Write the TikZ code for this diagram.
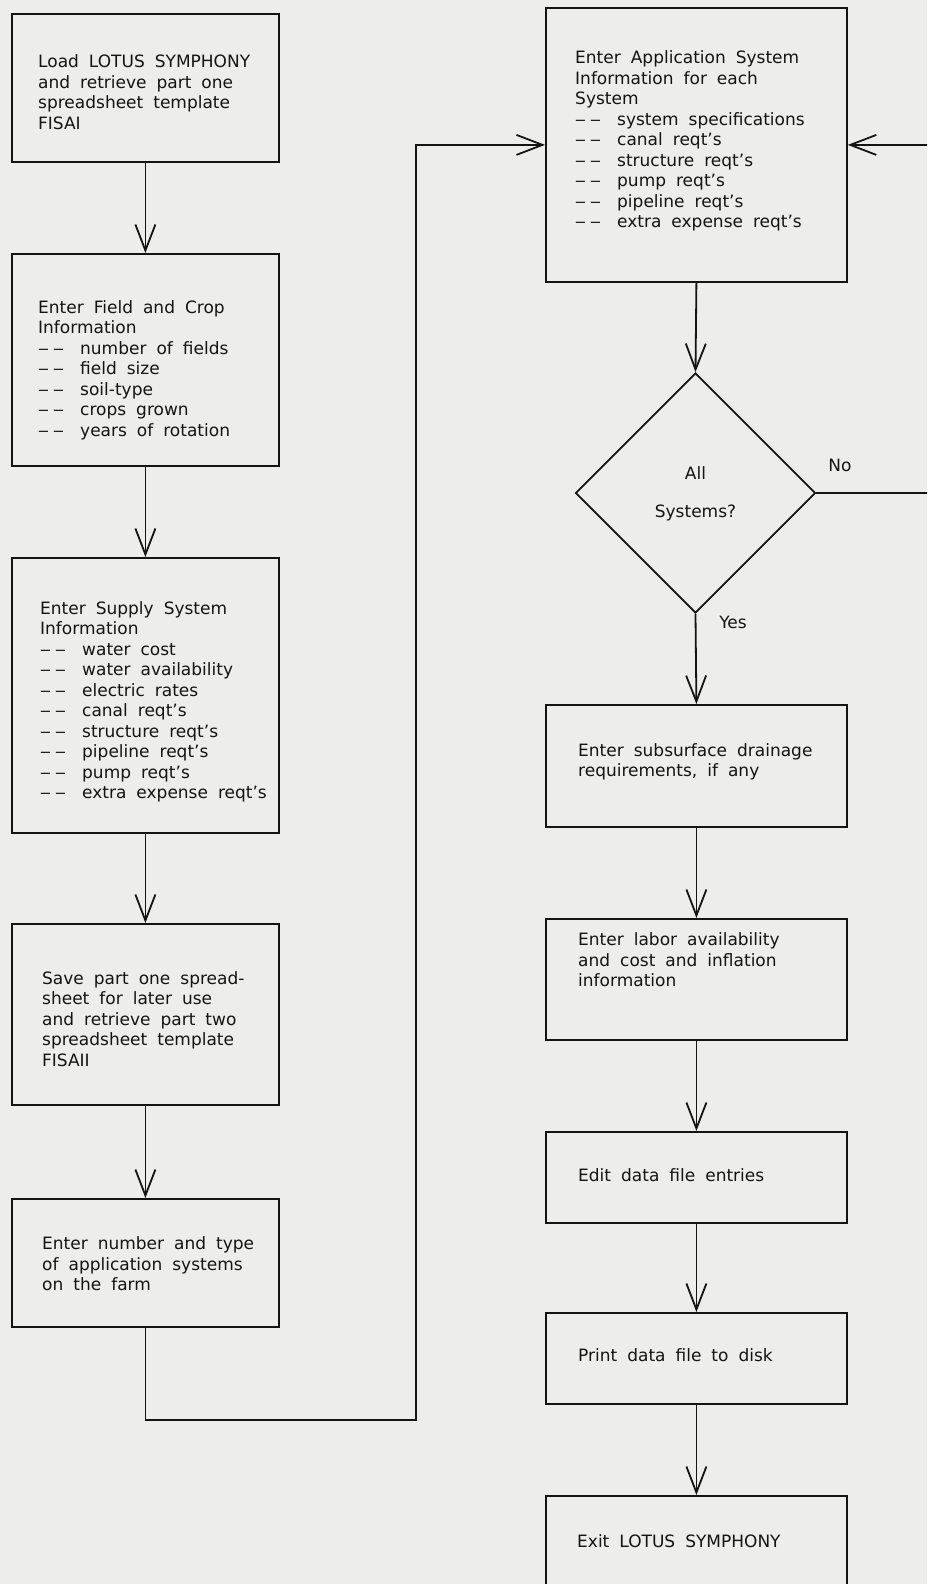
\documentclass[tikz,border=0pt]{standalone}
\usepackage{fontspec}
\setmainfont{DejaVu Sans}[WordSpace=1.85]
\usetikzlibrary{arrows.meta,shapes.geometric}

\definecolor{paper}{RGB}{237,237,235}
\definecolor{ink}{RGB}{20,20,20}

% list item lead-in: two long dashes, then the entry
\newcommand\lsdash{\makebox[42pt][l]{‒\kern4pt‒}}

\tikzset{
  x=1pt, y=-1pt,
  stepbox/.style={draw=ink, line width=1.8pt, rectangle, inner sep=0pt, anchor=north west},
  txt/.style={align=left, anchor=west, inner sep=0pt, text=ink,
              font=\fontsize{17}{20.5}\selectfont},
  lbl/.style={inner sep=0pt, text=ink, font=\fontsize{17}{20.5}\selectfont},
  flow/.style={draw=ink, line width=1.8pt,
               -{Straight Barb[length=26pt,width=20pt,line width=1.8pt]}},
  decision/.style={draw=ink, line width=1.8pt, diamond, inner sep=0pt,
                   minimum width=240pt, minimum height=240pt},
}

\begin{document}
\begin{tikzpicture}
\useasboundingbox (0,0) rectangle (927,1584);
\fill[paper] (0,0) rectangle (927,1584);
\clip (0,0) rectangle (927,1584);

% ---- left column: spreadsheet part one ----
\node[stepbox, minimum width=267pt, minimum height=148pt] (b1) at (11,13) {};
\node[txt] (t1) at (38,92) {Load LOTUS SYMPHONY\\and retrieve part one\\spreadsheet template\\FISAI};

\node[stepbox, minimum width=267pt, minimum height=212pt] (b2) at (11,253) {};
\node[txt] (t2) at (38,370) {Enter Field and Crop\\Information\\\lsdash number of fields\\\lsdash field size\\\lsdash soil-type\\\lsdash crops grown\\\lsdash years of rotation};

\node[stepbox, minimum width=267pt, minimum height=275pt] (b3) at (11,557) {};
\node[txt] (t3) at (40,702) {Enter Supply System\\Information\\\lsdash water cost\\\lsdash water availability\\\lsdash electric rates\\\lsdash canal reqt's\\\lsdash structure reqt's\\\lsdash pipeline reqt's\\\lsdash pump reqt's\\\lsdash extra expense reqt's};

\node[stepbox, minimum width=267pt, minimum height=181pt] (b4) at (11,923) {};
\node[txt] (t4) at (42,1019) {Save part one spread-\\sheet for later use\\and retrieve part two\\spreadsheet template\\FISAII};

\node[stepbox, minimum width=267pt, minimum height=128pt] (b5) at (11,1198) {};
\node[txt] (t5) at (42,1264) {Enter number and type\\of application systems\\on the farm};

% ---- right column: part two ----
\node[stepbox, minimum width=301pt, minimum height=274pt] (r1) at (545,7) {};
\node[txt] (u1) at (575,141) {Enter Application System\\Information for each\\System\\\lsdash system specifications\\\lsdash canal reqt's\\\lsdash structure reqt's\\\lsdash pump reqt's\\\lsdash pipeline reqt's\\\lsdash extra expense reqt's};

\node[decision] (d) at (695.5,493) {};
\node[lbl] (dall) at (695.5,473) {All};
\node[lbl] (dsys) at (695.5,513) {Systems?};
\node[lbl] (no) at (840,465) {No};
\node[lbl] (yes) at (733,622) {Yes};

\node[stepbox, minimum width=301pt, minimum height=122pt] (r2) at (545,704) {};
\node[txt] (u2) at (578,762) {Enter subsurface drainage\\requirements, if any};

\node[stepbox, minimum width=301pt, minimum height=121pt] (r3) at (545,918) {};
\node[txt] (u3) at (578,960) {Enter labor availability\\and cost and inflation\\information};

\node[stepbox, minimum width=301pt, minimum height=91pt] (r4) at (545,1131) {};
\node[txt] (u4) at (578,1175) {Edit data file entries};

\node[stepbox, minimum width=301pt, minimum height=91pt] (r5) at (545,1312) {};
\node[txt] (u5) at (578,1355) {Print data file to disk};

\node[stepbox, minimum width=301pt, minimum height=120pt] (r6) at (545,1495) {};
\node[txt] (u6) at (577,1541) {Exit LOTUS SYMPHONY};

% ---- connectors ----
\draw[flow] (b1.south) -- (b2.north);
\draw[flow] (b2.south) -- (b3.north);
\draw[flow] (b3.south) -- (b4.north);
\draw[flow] (b4.south) -- (b5.north);

\coordinate (lp) at (416,1420);
\draw[flow] (b5.south) |- (lp) |- (r1.west);

\draw[flow] (r1.south) -- (d.north);
\coordinate (ne) at (960,493);
\draw[flow] (d.east) -- (ne) |- (r1.east);
\draw[flow] (d.south) -- (r2.north);
\draw[flow] (r2.south) -- (r3.north);
\draw[flow] (r3.south) -- (r4.north);
\draw[flow] (r4.south) -- (r5.north);
\draw[flow] (r5.south) -- (r6.north);
\end{tikzpicture}
\end{document}
